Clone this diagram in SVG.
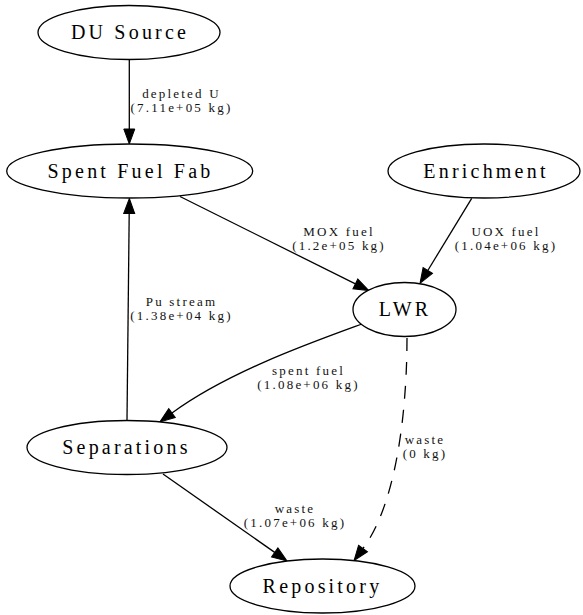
<svg xmlns="http://www.w3.org/2000/svg" width="583" height="615" viewBox="0 0 583 615">
<style>
.node ellipse{fill:#fff;stroke:#000;stroke-width:1.3}
.node text{font-family:"Liberation Serif","Times New Roman",serif;font-size:20px;letter-spacing:3.2px;text-anchor:middle;fill:#000}
.edge path{fill:none;stroke:#000;stroke-width:1.3}
.edge .dash{stroke-dasharray:13,11}
.lbl{font-family:"Liberation Serif","Times New Roman",serif;font-size:13px;letter-spacing:2.2px;text-anchor:middle;fill:#111}
</style>
<defs>
<marker id="ah" markerUnits="userSpaceOnUse" markerWidth="16" markerHeight="12" refX="0" refY="6" orient="auto" overflow="visible">
<path d="M0,0.5 L15,6 L0,11.5 z" fill="#000" stroke="#000" stroke-width="1"/>
</marker>
</defs>
<rect width="583" height="615" fill="#fff"/>
<g id="edges" class="edge">
<path d="M129.3,60 L129.3,129" marker-end="url(#ah)"/>
<path d="M180,196.5 L355.4,283.9" marker-end="url(#ah)"/>
<path d="M471.7,198.3 L427.8,270.5" marker-end="url(#ah)"/>
<path d="M127,420.5 L129.2,213.5" marker-end="url(#ah)"/>
<path d="M362,324 C310,343 228,372 172,413" marker-end="url(#ah)"/>
<path d="M163,474 L274.7,552.4" marker-end="url(#ah)"/>
<path class="dash" d="M407,338 C407,400 399,500 363,548.5" marker-end="url(#ah)"/>
<text class="lbl" x="181.5" y="98">depleted U</text>
<text class="lbl" x="181.5" y="112">(7.11e+05 kg)</text>
<text class="lbl" x="339" y="236">MOX fuel</text>
<text class="lbl" x="339" y="250">(1.2e+05 kg)</text>
<text class="lbl" x="506" y="236">UOX fuel</text>
<text class="lbl" x="506" y="250">(1.04e+06 kg)</text>
<text class="lbl" x="181.5" y="306">Pu stream</text>
<text class="lbl" x="181.5" y="320">(1.38e+04 kg)</text>
<text class="lbl" x="308.5" y="374.5">spent fuel</text>
<text class="lbl" x="308.5" y="388.5">(1.08e+06 kg)</text>
<text class="lbl" x="425" y="443.5">waste</text>
<text class="lbl" x="425" y="457.5">(0 kg)</text>
<text class="lbl" x="295" y="513">waste</text>
<text class="lbl" x="295" y="527">(1.07e+06 kg)</text>
</g>
<g id="du_source" class="node">
<ellipse cx="129" cy="32.5" rx="91" ry="27"/>
<text x="130" y="38.5">DU Source</text>
</g>
<g id="spent_fuel_fab" class="node">
<ellipse cx="129.7" cy="171" rx="123" ry="27"/>
<text x="130.5" y="177.5">Spent Fuel Fab</text>
</g>
<g id="enrichment" class="node">
<ellipse cx="484" cy="171" rx="96" ry="27"/>
<text x="486" y="177.5">Enrichment</text>
</g>
<g id="lwr" class="node">
<ellipse cx="404.5" cy="309.5" rx="51.5" ry="27"/>
<text x="405" y="315.5">LWR</text>
</g>
<g id="separations" class="node">
<ellipse cx="127" cy="447.5" rx="100" ry="27"/>
<text x="126.5" y="453.5">Separations</text>
</g>
<g id="repository" class="node">
<ellipse cx="322.5" cy="586" rx="92.5" ry="27"/>
<text x="322.5" y="593">Repository</text>
</g>
</svg>
